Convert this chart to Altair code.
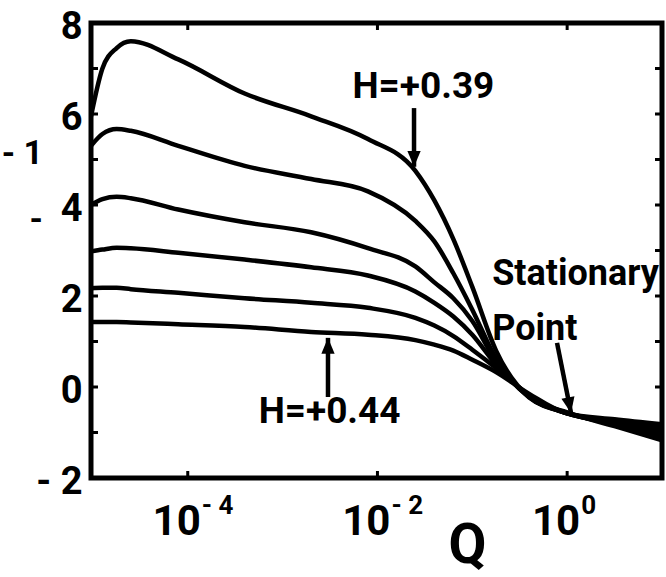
import altair as alt
import pandas as pd

# ---------------- data ----------------
Q = [9.55e-6, 1.26e-5, 1.78e-5, 2.51e-5, 7.94e-5, 3.98e-4, 2.0e-3, 7.94e-3,
     2.51e-2, 3.98e-2, 6.31e-2, 0.1, 0.178, 0.398, 1.0, 3.16, 10.0]

curve_1 = [5.95, 7.0, 7.45, 7.6, 7.2, 6.45, 5.95, 5.45, 4.75, 4.1, 3.25, 2.2, 0.8, -0.22, -0.56, -0.86, -1.17]
curve_2 = [5.3, 5.56, 5.67, 5.63, 5.3, 4.86, 4.57, 4.3, 3.65, 3.2, 2.5, 1.7, 0.62, -0.23, -0.57, -0.83, -1.10]
curve_3 = [4.0, 4.13, 4.18, 4.15, 3.9, 3.62, 3.4, 3.05, 2.65, 2.3, 1.95, 1.45, 0.56, -0.22, -0.58, -0.80, -1.03]
curve_4 = [2.98, 3.02, 3.06, 3.05, 2.95, 2.8, 2.63, 2.45, 2.1, 1.85, 1.55, 1.15, 0.49, -0.2, -0.58, -0.77, -0.96]
curve_5 = [2.17, 2.18, 2.18, 2.15, 2.07, 1.95, 1.85, 1.74, 1.52, 1.35, 1.12, 0.82, 0.42, -0.18, -0.58, -0.74, -0.89]
curve_6 = [1.43, 1.43, 1.43, 1.42, 1.38, 1.32, 1.21, 1.15, 1.03, 0.93, 0.8, 0.6, 0.33, -0.15, -0.58, -0.71, -0.82]
curve_names = ["H=+0.39", "H2", "H3", "H4", "H5", "H=+0.44"]

y_label_values = [-2, 0, 2, 4, 6, 8]
y_tick_values = [-2, -1, 0, 1, 2, 3, 4, 5, 6, 7, 8]
x_tick_values = [1e-4, 1e-2, 1.0]
x_tick_base = ["10", "10", "10"]
x_tick_exp = ["- 4", "- 2", "0"]

ann_center_text = ["H=+0.39", "H=+0.44"]
ann_center_q = [0.0305, 0.00313]
ann_center_v = [6.35, -0.79]
ann_left_text = ["Stationary", "Point"]
ann_left_q = [0.162, 0.162]
ann_left_v = [2.24, 1.03]

arrow_tail_q = [0.0243, 0.00301, 0.782]
arrow_tail_v = [6.13, -0.22, 0.97]
arrow_tip_q = [0.0243, 0.00301, 1.099]
arrow_tip_v = [4.84, 1.08, -0.57]
arrow_head_shape = ["M0,0 L-0.42,-1 L0.42,-1 Z", "M0,0 L-0.42,1 L0.42,1 Z", "M0,0 L-0.42,-1 L0.42,-1 Z"]
arrow_head_angle = [0, 0, 348.7]

stray_text = ["- 1", "-"]
stray_v = [4.9, 3.45]

# ---------------- tables ----------------
rows = []
for name, vals in zip(curve_names, [curve_1, curve_2, curve_3, curve_4, curve_5, curve_6]):
    for q, v in zip(Q, vals):
        rows.append({"curve": name, "Q": q, "v": v})
df_lines = pd.DataFrame(rows)
df_yt = pd.DataFrame({"v": y_tick_values})
df_xt = pd.DataFrame({"Q": x_tick_values, "base": x_tick_base, "exp": x_tick_exp})
df_annc = pd.DataFrame({"Q": ann_center_q, "v": ann_center_v, "t": ann_center_text})
df_annl = pd.DataFrame({"Q": ann_left_q, "v": ann_left_v, "t": ann_left_text})
df_arr = pd.DataFrame({"Q": arrow_tail_q, "v": arrow_tail_v, "Q2": arrow_tip_q, "v2": arrow_tip_v,
                       "shape": arrow_head_shape, "angle": arrow_head_angle})
df_stray = pd.DataFrame({"v": stray_v, "t": stray_text})

W, H = 571, 455
FONT = "Roboto"

xs = alt.Scale(type="log", domain=[9.55e-6, 10.0], nice=False)
ys = alt.Scale(domain=[-2, 8], nice=False)

xaxis = alt.Axis(
    labels=False, ticks=False, domain=False, grid=False, title="Q",
    titleFont=FONT, titleFontSize=55, titleFontWeight="bold", titleColor="black",
    titleX=376, titleY=84, titleBaseline="alphabetic", titleAlign="center")
yaxis = alt.Axis(
    values=y_label_values, ticks=False, domain=False, grid=False, title=None,
    labelFont=FONT, labelFontSize=38, labelFontWeight="bold", labelColor="black",
    labelPadding=9, labelOffset=4, labelFlush=False, labelOverlap=False,
    labelExpr="datum.value < 0 ? '- ' + abs(datum.value) : datum.label")


def X(field="Q"):
    return alt.X(f"{field}:Q", scale=xs, axis=xaxis, title="Q")


def Y(field="v"):
    return alt.Y(f"{field}:Q", scale=ys, axis=yaxis, title=None)


lines = alt.Chart(df_lines).mark_line(
    color="black", strokeWidth=4.5, interpolate="monotone", clip=True
).encode(x=X(), y=Y(), detail="curve:N")

tick_l = alt.Chart(df_yt).mark_rule(color="black", strokeWidth=3).encode(
    y=Y(), x=alt.value(0), x2=alt.value(7))
tick_r = alt.Chart(df_yt).mark_rule(color="black", strokeWidth=3).encode(
    y=Y(), x=alt.value(W - 7), x2=alt.value(W))
tick_b = alt.Chart(df_xt).mark_rule(color="black", strokeWidth=3).encode(
    x=X(), y=alt.value(H - 7), y2=alt.value(H))
tick_t = alt.Chart(df_xt).mark_rule(color="black", strokeWidth=3).encode(
    x=X(), y=alt.value(0), y2=alt.value(7))

xlab_base = alt.Chart(df_xt).mark_text(
    font=FONT, fontSize=42, fontWeight="bold", color="black", align="right",
    baseline="alphabetic", dx=13
).encode(x=X(), y=alt.value(H + 57), text="base:N")
xlab_exp = alt.Chart(df_xt).mark_text(
    font=FONT, fontSize=26, fontWeight="bold", color="black", align="left",
    baseline="alphabetic", dx=14
).encode(x=X(), y=alt.value(H + 36), text="exp:N")

ann_c = alt.Chart(df_annc).mark_text(
    font=FONT, fontSize=37, fontWeight="bold", color="black", align="center", baseline="alphabetic"
).encode(x=X(), y=Y(), text="t:N")
ann_l = alt.Chart(df_annl).mark_text(
    font=FONT, fontSize=36, fontWeight="bold", color="black", align="left", baseline="alphabetic"
).encode(x=X(), y=Y(), text="t:N")

shafts = alt.Chart(df_arr).mark_rule(color="black", strokeWidth=4.5).encode(
    x=X(), y=Y(), x2="Q2:Q", y2="v2:Q")
heads = alt.Chart(df_arr).mark_point(filled=True, color="black", opacity=1, size=1000, strokeWidth=0).encode(
    x=X("Q2"), y=Y("v2"),
    shape=alt.Shape("shape:N", scale=None), angle=alt.Angle("angle:Q", scale=None))

stray = alt.Chart(df_stray).mark_text(
    font=FONT, fontSize=34, fontWeight="bold", color="black", align="right", baseline="alphabetic"
).encode(y=Y(), x=alt.value(-48), text="t:N")

chart = alt.layer(
    lines, tick_l, tick_r, tick_b, tick_t, xlab_base, xlab_exp, ann_c, ann_l, shafts, heads, stray
).properties(
    width=W, height=H,
    background="white",
    autosize=alt.AutoSizeParams(type="none"),
    padding={"left": 91, "top": 23, "right": 4, "bottom": 99},
).configure_view(
    stroke="black", strokeWidth=5
)

chart.save("out.html", embed_options={"renderer": "svg", "actions": False})
